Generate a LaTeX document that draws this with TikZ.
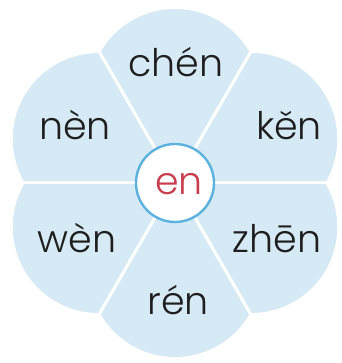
\documentclass[tikz,border=0pt]{standalone}
\usepackage{fontspec}
\setmainfont{Poppins}[UprightFont=* Light]
\definecolor{petalblue}{RGB}{214,234,245}
\definecolor{ringblue}{RGB}{92,178,222}
\definecolor{enred}{RGB}{200,62,78}
\definecolor{inkgray}{RGB}{30,30,30}
\begin{document}
\begin{tikzpicture}[x=1pt,y=1pt,
  petal/.style={fill=petalblue},
  divider/.style={draw=white,line width=3pt},
  word/.style={anchor=base,inner sep=0pt,text=inkgray,font=\fontsize{38}{40}\selectfont},
  ring/.style={circle,draw=ringblue,fill=white,line width=2.4pt,minimum size=78pt,inner sep=0pt}]
\useasboundingbox (0,0) rectangle (341,363);
\coordinate (C) at (175,180);
\foreach \a in {90,30,-30,-90,-150,150}
  \fill[petal] (C) ++(\a:88) circle (86);
\foreach \a in {0,60,120,180,240,300}
  \draw[divider] (C) -- ++(\a:200);
\node[ring] (center) at (C) {};
\node[word,text=enred] (en) at (179,168) {en};
\node[word] (chen) at (176,286) {chén};
\node[word] (nen) at (75,223) {nèn};
\node[word] (ken) at (289,223) {kěn};
\node[word] (wen) at (77,110) {wèn};
\node[word] (zhen) at (277,110) {zhēn};
\node[word] (ren) at (178,48) {rén};
\end{tikzpicture}
\end{document}
